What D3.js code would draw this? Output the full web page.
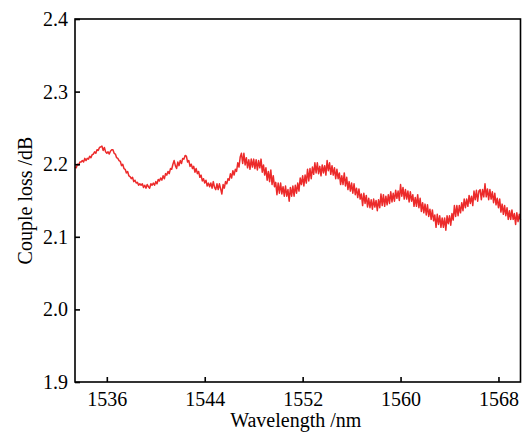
<!DOCTYPE html>
<html>
<head>
<meta charset="utf-8">
<script src="https://cdn.jsdelivr.net/npm/d3@7"></script>
<style>
  body { margin: 0; background: #fff; }
  text { font-family: "Liberation Serif", "DejaVu Serif", serif; }
</style>
</head>
<body>
<svg id="chart" width="525" height="434"></svg>
<script>
const wlStart = 1533.4;
const wlStep = 0.1;
const loss = [
  2.196, 2.195, 2.200, 2.199, 2.203, 2.203,
  2.205, 2.203, 2.208, 2.205, 2.208,
  2.207, 2.211, 2.209, 2.213, 2.214,
  2.217, 2.215, 2.220, 2.219, 2.223,
  2.224, 2.225, 2.219, 2.223, 2.217,
  2.215, 2.217, 2.214, 2.218, 2.220,
  2.220, 2.215, 2.214, 2.209, 2.208,
  2.205, 2.204, 2.198, 2.200, 2.194,
  2.193, 2.188, 2.190, 2.184, 2.183,
  2.180, 2.182, 2.176, 2.178, 2.174,
  2.175, 2.171, 2.173, 2.171, 2.173,
  2.168, 2.171, 2.167, 2.172, 2.169,
  2.167, 2.173, 2.171, 2.174, 2.171,
  2.176, 2.173, 2.179, 2.177, 2.181,
  2.178, 2.184, 2.180, 2.187, 2.185,
  2.190, 2.187, 2.194, 2.193, 2.200,
  2.205, 2.198, 2.194, 2.203, 2.198,
  2.205, 2.201, 2.208, 2.207, 2.212,
  2.211, 2.203, 2.205, 2.197, 2.200,
  2.194, 2.197, 2.189, 2.194, 2.187,
  2.190, 2.182, 2.185, 2.177, 2.180,
  2.174, 2.178, 2.170, 2.174, 2.169,
  2.174, 2.167, 2.176, 2.168, 2.165,
  2.173, 2.165, 2.173, 2.166, 2.159,
  2.172, 2.167, 2.176, 2.173, 2.180,
  2.178, 2.187, 2.181, 2.191, 2.185,
  2.193, 2.190, 2.202, 2.196, 2.210,
  2.215, 2.201, 2.215, 2.199, 2.209,
  2.195, 2.206, 2.193, 2.207, 2.196,
  2.207, 2.194, 2.206, 2.192, 2.205,
  2.195, 2.207, 2.189, 2.199, 2.185,
  2.195, 2.178, 2.190, 2.176, 2.192,
  2.172, 2.184, 2.169, 2.175, 2.158,
  2.174, 2.160, 2.174, 2.159, 2.169,
  2.156, 2.170, 2.156, 2.165, 2.149,
  2.168, 2.156, 2.170, 2.156, 2.171,
  2.160, 2.174, 2.163, 2.181, 2.172,
  2.184, 2.170, 2.185, 2.174, 2.193,
  2.177, 2.194, 2.180, 2.196, 2.186,
  2.202, 2.188, 2.202, 2.187, 2.197,
  2.184, 2.199, 2.188, 2.198, 2.185,
  2.205, 2.191, 2.202, 2.186, 2.198,
  2.185, 2.195, 2.180, 2.193, 2.180,
  2.188, 2.172, 2.184, 2.172, 2.188,
  2.170, 2.182, 2.165, 2.176, 2.163,
  2.174, 2.160, 2.173, 2.158, 2.167,
  2.154, 2.166, 2.152, 2.159, 2.143,
  2.160, 2.146, 2.157, 2.141, 2.153,
  2.140, 2.151, 2.138, 2.152, 2.141,
  2.150, 2.136, 2.151, 2.140, 2.159,
  2.143, 2.158, 2.142, 2.156, 2.144,
  2.158, 2.146, 2.162, 2.148, 2.160,
  2.149, 2.164, 2.153, 2.163, 2.150,
  2.172, 2.156, 2.168, 2.152, 2.165,
  2.152, 2.163, 2.148, 2.162, 2.149,
  2.158, 2.142, 2.154, 2.142, 2.158,
  2.140, 2.153, 2.135, 2.147, 2.133,
  2.145, 2.130, 2.144, 2.128, 2.138,
  2.124, 2.137, 2.122, 2.130, 2.113,
  2.131, 2.117, 2.129, 2.113, 2.126,
  2.113, 2.126, 2.109, 2.129, 2.118,
  2.129, 2.116, 2.132, 2.123, 2.143,
  2.128, 2.143, 2.129, 2.143, 2.133,
  2.147, 2.136, 2.152, 2.140, 2.152,
  2.142, 2.157, 2.146, 2.156, 2.143,
  2.163, 2.151, 2.164, 2.149, 2.163,
  2.165, 2.151, 2.165, 2.155, 2.173,
  2.155, 2.166, 2.151, 2.165, 2.152,
  2.162, 2.147, 2.160, 2.144, 2.153,
  2.140, 2.152, 2.134, 2.145, 2.131,
  2.143, 2.129, 2.140, 2.124, 2.136,
  2.124, 2.137, 2.124, 2.132, 2.117,
  2.133, 2.121, 2.131, 2.123
];
const xTicks = [1536, 1544, 1552, 1560, 1568];
const yTicks = [1.9, 2.0, 2.1, 2.2, 2.3, 2.4];

const W = 525, H = 434;
const margin = {top: 19, right: 4.5, bottom: 52, left: 75};
const iw = W - margin.left - margin.right;
const ih = H - margin.top - margin.bottom;

const data = loss.map((v, i) => ({wl: wlStart + i * wlStep, v: v}));

const svg = d3.select('#chart');
const g = svg.append('g').attr('transform', `translate(${margin.left},${margin.top})`);

const x = d3.scaleLinear().domain([1533.4, 1569.8]).range([0, iw]);
const y = d3.scaleLinear().domain([1.9, 2.4]).range([ih, 0]);

// curve
g.append('path')
  .datum(data)
  .attr('fill', 'none')
  .attr('stroke', '#ec2a2a')
  .attr('stroke-width', 1.5)
  .attr('stroke-linejoin', 'round')
  .attr('d', d3.line().x(d => x(d.wl)).y(d => y(d.v)));

// axes, ticks pointing inward
const xAxis = g.append('g')
  .attr('transform', `translate(0,${ih})`)
  .call(d3.axisBottom(x).tickValues(xTicks).tickFormat(d3.format('d'))
    .tickSizeInner(-5).tickSizeOuter(0).tickPadding(10));

const yAxis = g.append('g')
  .call(d3.axisLeft(y).tickValues(yTicks).tickFormat(d3.format('.1f'))
    .tickSizeInner(-5).tickSizeOuter(0).tickPadding(7));

[xAxis, yAxis].forEach(a => {
  a.select('.domain').remove();
  a.selectAll('.tick line').attr('stroke', '#000').attr('stroke-width', 1.6);
  a.selectAll('.tick text').attr('fill', '#000').style('font-size', '20px');
});

// frame
g.append('rect')
  .attr('width', iw).attr('height', ih)
  .attr('fill', 'none')
  .attr('stroke', '#000')
  .attr('stroke-width', 1.6);

// titles
svg.append('text')
  .attr('x', margin.left + iw / 2 - 2)
  .attr('y', 427)
  .attr('text-anchor', 'middle')
  .style('font-size', '20px')
  .text('Wavelength /nm');

svg.append('text')
  .attr('transform', `translate(32,${margin.top + ih / 2}) rotate(-90)`)
  .attr('text-anchor', 'middle')
  .style('font-size', '20px')
  .text('Couple loss /dB');
</script>
</body>
</html>
